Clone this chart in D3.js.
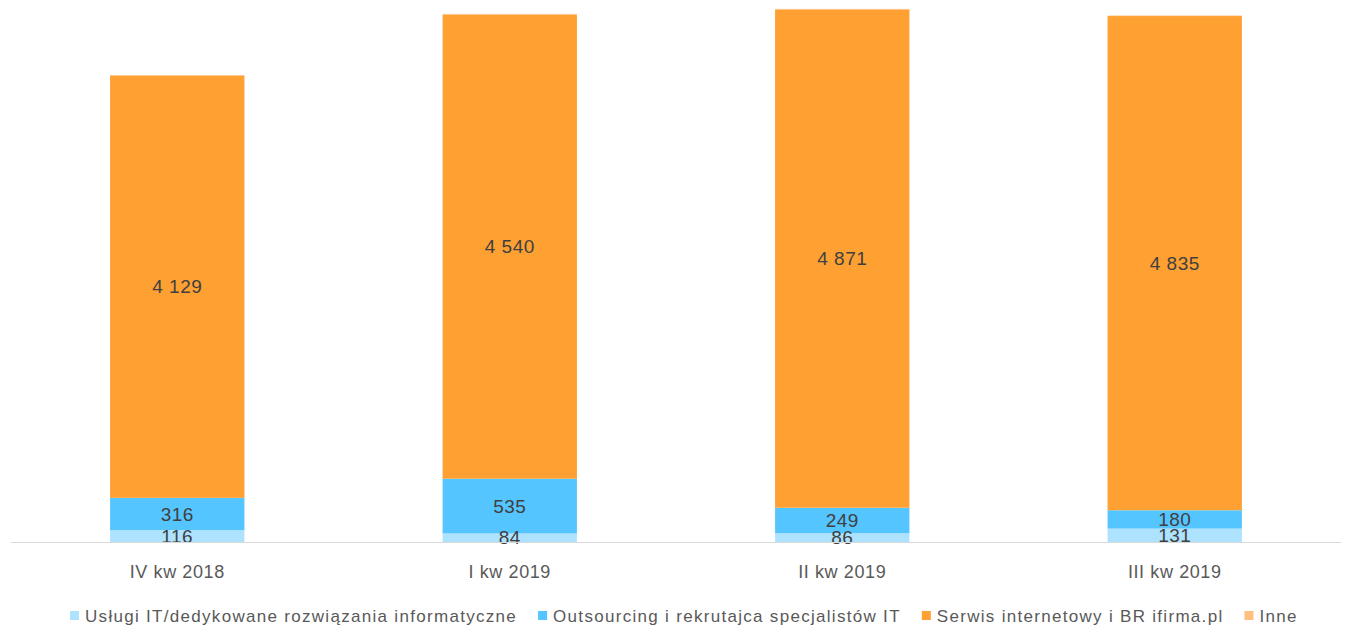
<!DOCTYPE html>
<html>
<head>
<meta charset="utf-8">
<script src="https://cdn.jsdelivr.net/npm/d3@7"></script>
<style>
	body { margin: 0; background: #fff; }
	svg { font-family: "Liberation Sans", Arial, sans-serif; }
</style>
</head>
<body>
<svg width="1347" height="632"></svg>
<script>
var categories = ["IV kw 2018", "I kw 2019", "II kw 2019", "III kw 2019"]
var seriesNames = ["Usługi IT/dedykowane rozwiązania informatyczne", "Outsourcing i rekrutajca specjalistów IT", "Serwis internetowy i BR ifirma.pl", "Inne"]
var uslugi = [116, 84, 86, 131]
var outsourcing = [316, 535, 249, 180]
var serwis = [4129, 4540, 4871, 4835]
var inne = [8, 8, 10, 5]
var colors = ["#ade3ff", "#55c5ff", "#ffa033", "#ffc07f"]

var svg = d3.select("svg")
var values = [uslugi, outsourcing, serwis, inne]

var rows = categories.map(function(c, i) {
	var r = {cat: c}
	seriesNames.forEach(function(s, j) { r[s] = values[j][i] })
	return r
})
var stack = d3.stack().keys(seriesNames)(rows)

var x = d3.scaleBand().domain(categories).range([11, 1341]).paddingInner(0.596).paddingOuter(0.298)
var y = d3.scaleLinear().domain([0, 5303]).range([542, 0])

var g = svg.append("g")
stack.forEach(function(layer, j) {
	g.selectAll("rect.s" + j)
		.data(layer)
		.enter().append("rect")
		.attr("x", function(d, i) { return x(categories[i]) })
		.attr("width", x.bandwidth())
		.attr("y", function(d) { return y(d[1]) })
		.attr("height", function(d) { return y(d[0]) - y(d[1]) })
		.attr("fill", colors[j])
})

// value labels (not for Inne)
var fmt = function(v) { return d3.format(",")(v).replace(/,/g, " ") }
stack.slice(0, 3).forEach(function(layer, j) {
	g.selectAll("text.l" + j)
		.data(layer)
		.enter().append("text")
		.attr("x", function(d, i) { return x(categories[i]) + x.bandwidth() / 2 })
		.attr("y", function(d) { return (y(d[0]) + y(d[1])) / 2 })
		.attr("dy", "0.35em")
		.attr("text-anchor", "middle")
		.attr("fill", "#404040")
		.style("font-size", "19px")
		.style("letter-spacing", "0.5px")
		.text(function(d) { return fmt(d[1] - d[0]) })
})

// axis line
svg.append("line")
	.attr("x1", 11).attr("x2", 1341)
	.attr("y1", 542.5).attr("y2", 542.5)
	.attr("stroke", "#d9d9d9").attr("stroke-width", 1)

svg.selectAll("text.cat")
	.data(categories)
	.enter().append("text")
	.attr("x", function(d) { return x(d) + x.bandwidth() / 2 })
	.attr("y", 578)
	.attr("text-anchor", "middle")
	.attr("fill", "#595959")
	.style("font-size", "18px")
	.style("letter-spacing", "0.6px")
	.text(function(d) { return d })

// legend
var legend = svg.append("g")
var lx = 70
seriesNames.forEach(function(s, j) {
	legend.append("rect")
		.attr("x", lx).attr("y", 611)
		.attr("width", 9).attr("height", 9)
		.attr("fill", colors[j])
	var t = legend.append("text")
		.attr("x", lx + 15).attr("y", 622)
		.attr("fill", "#595959")
		.style("font-size", "17px")
		.style("letter-spacing", "1.3px")
		.text(s)
	lx += 15 + t.node().getComputedTextLength() + 21
})
</script>
</body>
</html>
